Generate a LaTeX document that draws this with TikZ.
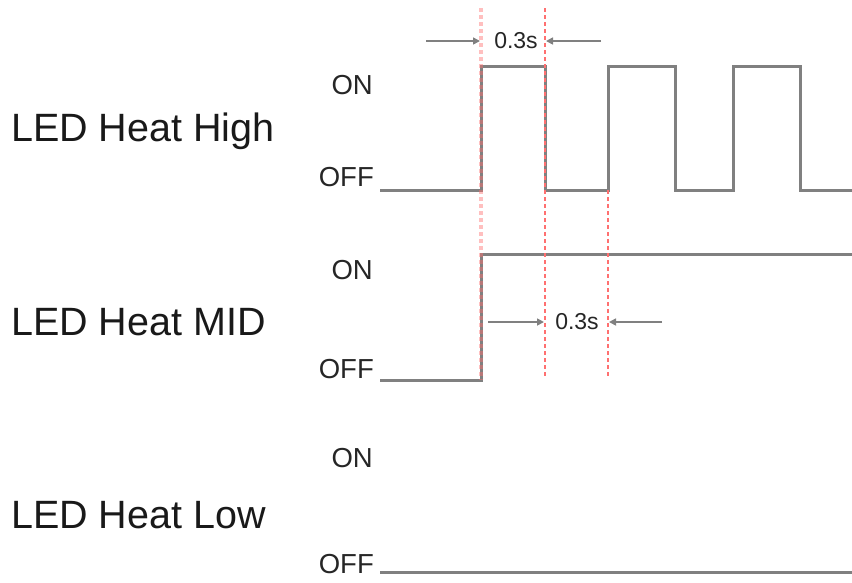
\documentclass[tikz,border=0pt]{standalone}
\usepackage{fontspec}
\setmainfont{Liberation Sans}
\usetikzlibrary{arrows.meta}
\definecolor{sig}{HTML}{808080}
\definecolor{mark}{HTML}{FF7070}
\tikzset{
  signal/.style={draw=sig, line width=3pt, line join=miter},
  guide/.style={draw=mark, line width=2pt, dash pattern=on 4pt off 3pt},
  guidewide/.style={draw=mark, line width=3.5pt, dash pattern=on 4pt off 3pt, opacity=0.45},
  dimarrow/.style={draw=sig, line width=1.6pt, -{Triangle[length=7pt,width=7pt]}},
  biglabel/.style={anchor=west, inner sep=0pt, text=black!90, font=\fontsize{39.5}{40}\selectfont},
  state/.style={anchor=east, inner sep=0pt, text=black!85, font=\fontsize{27.5}{28}\selectfont},
  dimtext/.style={inner sep=0pt, text=black!85, font=\fontsize{23}{24}\selectfont},
}
\begin{document}
\begin{tikzpicture}[x=1pt,y=-1pt]
\useasboundingbox (0,0) rectangle (852,582);
% labels
\node[biglabel] (lhigh) at (11,131) {LED Heat High};
\node[biglabel] (lmid) at (11,322) {LED Heat MID};
\node[biglabel] (llow) at (11,515) {LED Heat Low};
\node[state] (on1) at (373,85) {ON};
\node[state] (off1) at (374,177) {OFF};
\node[state] (on2) at (373,270) {ON};
\node[state] (off2) at (374,369) {OFF};
\node[state] (on3) at (373,458) {ON};
\node[state] (off3) at (374,564) {OFF};
% signals
\draw[signal] (380,190) -- (481,190) -- (481,66) -- (545,66) -- (545,190) -- (608,190) -- (608,66) -- (675,66) -- (675,190) -- (733,190) -- (733,66) -- (800,66) -- (800,190) -- (852,190);
\draw[signal] (380,380) -- (481,380) -- (481,254) -- (852,254);
\draw[signal] (380,572) -- (852,572);
% guides
\draw[guidewide] (481,8) -- (481,380);
\draw[guide] (545,8) -- (545,378);
\draw[guide] (608,190) -- (608,378);
% dimensions
\coordinate (a1) at (426,41);
\coordinate (a1e) at (480,41);
\coordinate (a2) at (601,41);
\coordinate (a2e) at (546,41);
\draw[dimarrow] (a1) -- (a1e);
\draw[dimarrow] (a2) -- (a2e);
\node[dimtext] (d1) at (516,41) {0.3s};
\coordinate (b1) at (488,322);
\coordinate (b1e) at (544,322);
\coordinate (b2) at (662,322);
\coordinate (b2e) at (609,322);
\draw[dimarrow] (b1) -- (b1e);
\draw[dimarrow] (b2) -- (b2e);
\node[dimtext] (d2) at (577,322) {0.3s};
\end{tikzpicture}
\end{document}
